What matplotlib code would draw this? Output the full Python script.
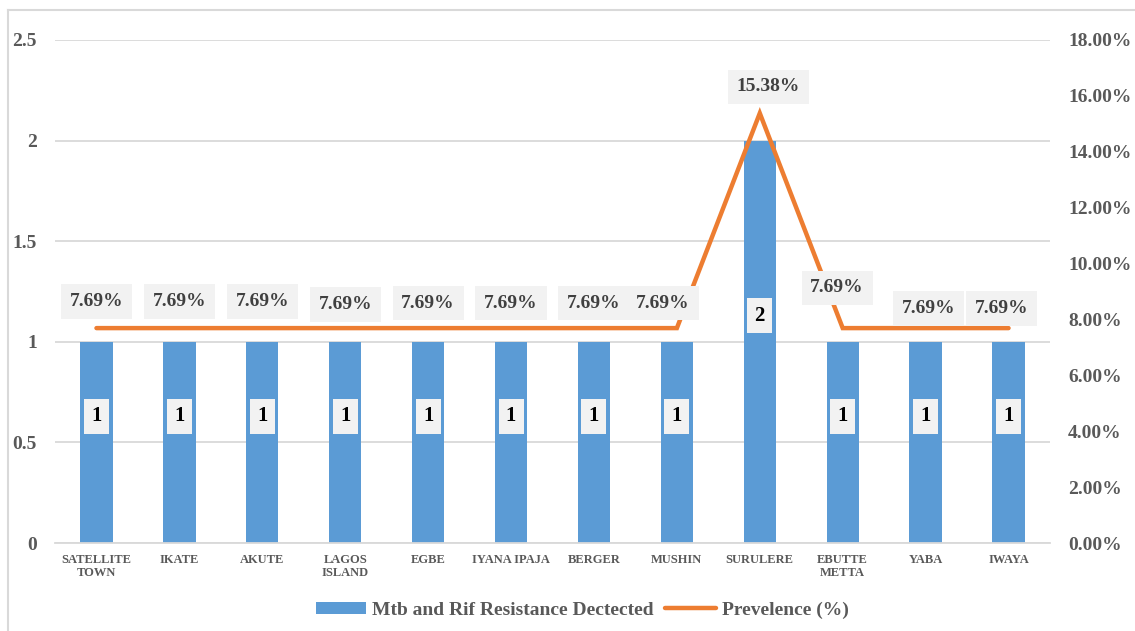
import matplotlib
matplotlib.use("Agg")
import matplotlib.pyplot as plt
from matplotlib.lines import Line2D
from matplotlib.patches import Patch
import numpy as np

# Data
locations = ["SATELLITE\nTOWN", "IKATE", "AKUTE", "LAGOS\nISLAND", "EGBE", "IYANA IPAJA",
             "BERGER", "MUSHIN", "SURULERE", "EBUTTE\nMETTA", "YABA", "IWAYA"]
detected = [1, 1, 1, 1, 1, 1, 1, 1, 2, 1, 1, 1]
prevalence = [7.69, 7.69, 7.69, 7.69, 7.69, 7.69, 7.69, 7.69, 15.38, 7.69, 7.69, 7.69]

# Label nudges in points (dx, dy) for the prevalence labels
label_nudge = [(0, 0), (0, 0), (0, 0), (0, -2), (0, -1), (0, -1),
               (0, -1), (-10, -1), (6, 0), (-4, 10), (2, -5), (-5, -5)]

BLUE = "#5B9BD5"
ORANGE = "#ED7D31"
GRID = "#D9D9D9"
TICK = "#595959"
SERIF = ["Liberation Serif", "DejaVu Serif"]

plt.rcParams["font.family"] = SERIF
plt.rcParams["font.weight"] = "bold"

fig = plt.figure(figsize=(11.35, 6.31), dpi=100)

# Chart-area border: top and left edges only
fig.add_artist(Line2D([8 / 1135, 1.0], [1 - 10 / 631, 1 - 10 / 631],
                      transform=fig.transFigure, color=GRID, linewidth=1.5))
fig.add_artist(Line2D([8 / 1135, 8 / 1135], [0.0, 1 - 10 / 631],
                      transform=fig.transFigure, color=GRID, linewidth=1.5))

ax = fig.add_axes([55 / 1135, 1 - 543 / 631, 995 / 1135, 503 / 631])
ax2 = ax.twinx()

x = np.arange(len(locations))
ax.bar(x, detected, width=0.39, color=BLUE, zorder=2)
ax.set_xlim(-0.5, len(locations) - 0.5)
ax.set_ylim(0, 2.5)
ax.set_yticks([0, 0.5, 1, 1.5, 2, 2.5])
ax.set_yticklabels(["0", "0.5", "1", "1.5", "2", "2.5"])
ax.yaxis.grid(True, color=GRID, linewidth=1.3, zorder=0)
ax.set_axisbelow(True)
for s in ["top", "right", "left"]:
    ax.spines[s].set_visible(False)
ax.spines["bottom"].set_color(GRID)
ax.spines["bottom"].set_linewidth(1.3)
ax.tick_params(axis="y", length=0, pad=13, labelsize=14, labelcolor=TICK)
ax.tick_params(axis="x", length=0, pad=8, labelsize=9, labelcolor=TICK)
ax.set_xticks(x)
ax.set_xticklabels(locations, fontweight="bold", linespacing=1.1)
for t in ax.get_yticklabels():
    t.set_fontweight("bold")

# Count labels inside bars
for xi, v in zip(x, detected):
    ax.text(xi, v / 2 + 0.13, f"{v}", ha="center", va="center", fontsize=15,
            fontweight="bold", color="black", zorder=5,
            bbox=dict(boxstyle="square,pad=0.35", facecolor="#F2F2F2",
                      edgecolor="none"))

# Prevalence line on secondary axis
ax2.plot(x, prevalence, color=ORANGE, linewidth=3.2, solid_capstyle="round",
         solid_joinstyle="miter", zorder=3)
ax2.set_ylim(0, 18)
ax2.set_yticks(np.arange(0, 18.1, 2))
ax2.set_yticklabels([f"{v:.2f}%" for v in np.arange(0, 18.1, 2)])
for s in ax2.spines.values():
    s.set_visible(False)
ax2.tick_params(axis="y", length=0, pad=13, labelsize=14, labelcolor=TICK)
for t in ax2.get_yticklabels():
    t.set_fontweight("bold")

for xi, v, (dx, dy) in zip(x, prevalence, label_nudge):
    ax2.annotate(f"{v:.2f}%", (xi, v), xytext=(dx, 19 + dy),
                 textcoords="offset points", ha="center", va="center",
                 fontsize=14, fontweight="bold", color="#404040", zorder=6,
                 bbox=dict(boxstyle="square,pad=0.45", facecolor="#F2F2F2",
                           edgecolor="none"))

# Legend
handles = [Patch(facecolor=BLUE, edgecolor="none"),
           Line2D([], [], color=ORANGE, linewidth=3.2, solid_capstyle="round")]
fig.legend(handles, ["Mtb and Rif Resistance Dectected", "Prevelence (%)"],
           loc="center", bbox_to_anchor=(0.513, 1 - 610 / 631), ncol=2,
           frameon=False, prop={"family": SERIF, "weight": "bold", "size": 14},
           labelcolor=TICK, handlelength=2.6, handleheight=0.6,
           columnspacing=0.6, handletextpad=0.3)

fig.savefig("out.png", dpi=100)
